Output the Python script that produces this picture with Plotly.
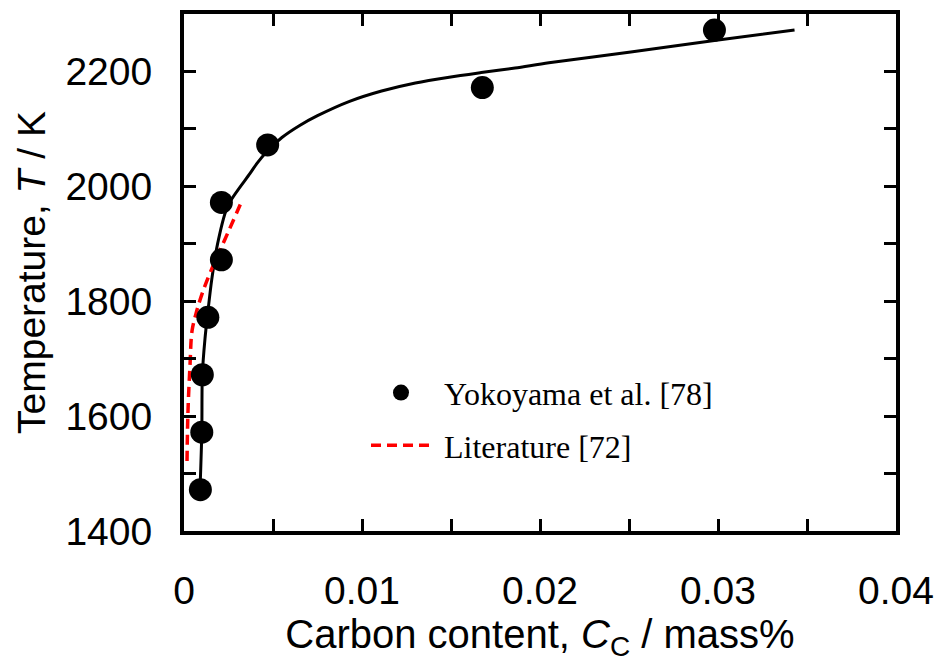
import plotly.graph_objects as go

# Measured liquidus data (Yokoyama et al.)
meas_c = [0.00092, 0.00100, 0.00103, 0.00134, 0.00210, 0.00210, 0.00470, 0.01676, 0.02980]
meas_t = [1472, 1572, 1672, 1772, 1872, 1972, 2072, 2172, 2272]

# Fitted solubility curve
fit_c = [0.00090, 0.00100, 0.00103, 0.00118, 0.00134, 0.00156, 0.00190, 0.00246,
         0.00370, 0.00410, 0.00470, 0.00550, 0.00650, 0.00750, 0.00930, 0.01110,
         0.01300, 0.01490, 0.01670, 0.01860, 0.02050, 0.02510, 0.02980, 0.03430]
fit_t = [1472, 1572, 1672, 1735, 1781, 1838, 1902, 1966,
         2022, 2040, 2062, 2085, 2106, 2123, 2148, 2166,
         2180, 2190, 2198, 2206, 2215, 2234, 2254, 2272]

# Literature curve
lit_c = [0.00017, 0.00022, 0.00034, 0.00045, 0.00067, 0.00106, 0.00173, 0.00229, 0.00324]
lit_t = [1522, 1605, 1690, 1748, 1778, 1817, 1869, 1907, 1974]

x_ticks = [0, 0.01, 0.02, 0.03, 0.04]
x_ticktext = ["0", "0.01", "0.02", "0.03", "0.04"]
y_ticks = [1400, 1600, 1800, 2000, 2200]

sans = "Liberation Sans, Arial, sans-serif"
serif = "Liberation Serif, Times New Roman, serif"
pad = "\u00a0"  # small gap between legend symbol and label

fig = go.Figure()
fig.add_trace(go.Scatter(
    x=fit_c, y=fit_t, mode="lines", showlegend=False,
    line=dict(color="black", width=3, shape="spline", smoothing=0.8),
))
fig.add_trace(go.Scatter(
    x=lit_c, y=lit_t, mode="lines", name=pad + "Literature [72]",
    legendrank=2, legendgroup="lit",
    line=dict(color="#ff0000", width=3.5, dash="10px,6px", shape="spline"),
))
fig.add_trace(go.Scatter(
    x=meas_c, y=meas_t, mode="markers", name=pad + "Yokoyama et al. [78]",
    legendrank=1, legendgroup="meas",
    marker=dict(color="black", size=23),
))

axis_common = dict(
    showgrid=False, zeroline=False, showline=True, linecolor="black", linewidth=4,
    mirror="ticks", ticks="inside", ticklen=12, tickwidth=3, tickcolor="black",
    tickfont=dict(family=sans, size=39, color="black"),
)

fig.update_layout(
    width=944, height=663,
    margin=dict(l=184, r=44, t=10, b=132),
    paper_bgcolor="white", plot_bgcolor="white",
    xaxis=dict(
        range=[0, 0.04], tickvals=x_ticks, ticktext=x_ticktext,
        minor=dict(dtick=0.005, ticks="inside", ticklen=12, tickwidth=3, tickcolor="black"),
        ticklabelstandoff=22,
        title=dict(text="Carbon content, <i>C</i><sub>C</sub> / mass%",
                   font=dict(family=sans, size=40, color="black"), standoff=8),
        **axis_common,
    ),
    yaxis=dict(
        range=[1400, 2300], tickvals=y_ticks,
        minor=dict(dtick=100, ticks="inside", ticklen=12, tickwidth=3, tickcolor="black"),
        ticklabelstandoff=20,
        title=dict(text="Temperature, <i>T</i> / K",
                   font=dict(family=sans, size=39, color="black"), standoff=9),
        **axis_common,
    ),
    legend=dict(
        x=0.2556, y=0.3205, xanchor="left", yanchor="top",
        font=dict(family=serif, size=32, color="black"),
        itemwidth=60, tracegroupgap=8, traceorder="grouped",
        bgcolor="rgba(0,0,0,0)",
    ),
)

fig.write_html("out.html")
